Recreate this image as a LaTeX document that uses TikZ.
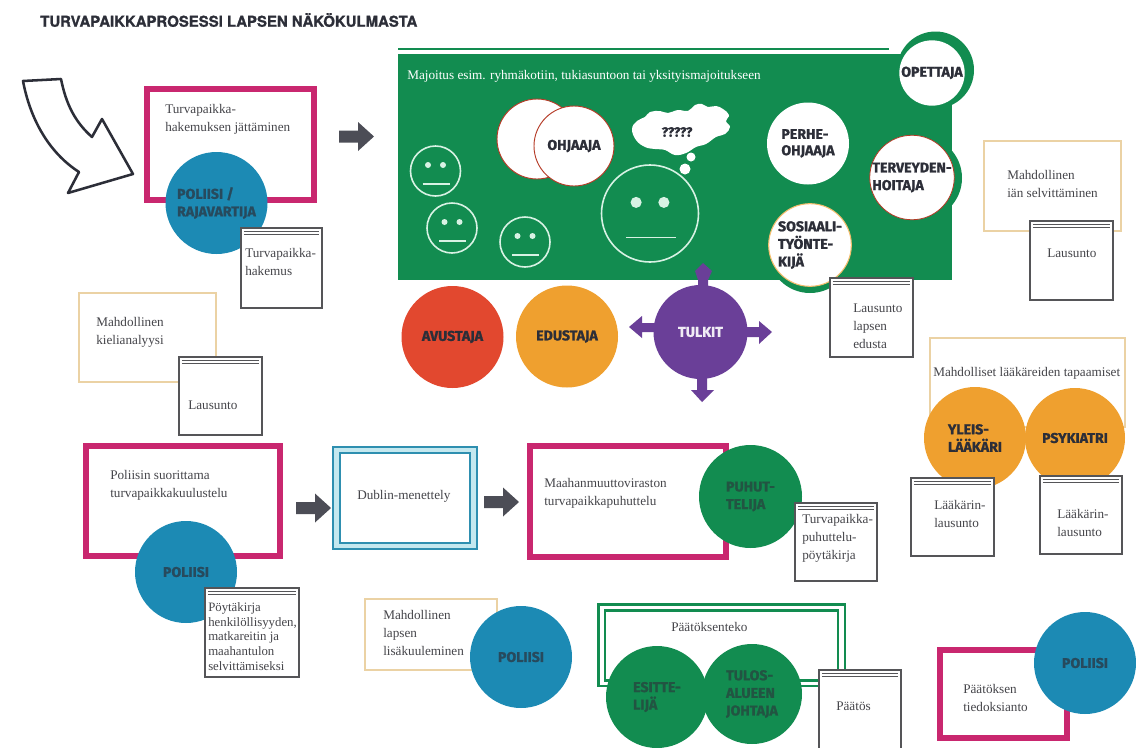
\documentclass[tikz,border=0pt]{standalone}
\usepackage{fontspec}
\setmainfont{Liberation Serif}
\newfontfamily\labfont[BoldFeatures={FakeBold=1.3}]{Fira Sans}
\newfontfamily\headfont[BoldFeatures={FakeBold=1.2}]{TeX Gyre Heros}
\definecolor{cpink}{HTML}{C9276F}
\definecolor{cblue}{HTML}{1C8AB4}
\definecolor{cgreen}{HTML}{128C50}
\definecolor{corange}{HTML}{EFA02F}
\definecolor{cred}{HTML}{E2482F}
\definecolor{cpurple}{HTML}{6A3F98}
\definecolor{cpale}{HTML}{EBD2A4}
\definecolor{cdoc}{HTML}{555558}
\definecolor{ctext}{HTML}{45454A}
\definecolor{cdark}{HTML}{2C2E38}
\definecolor{cframe}{HTML}{2E8FB0}
\definecolor{cgap}{HTML}{C4E8EF}
\definecolor{cmint}{HTML}{D8F2E4}
\tikzset{
  boxbase/.style={rectangle,inner sep=0pt,outer sep=0pt,fill=white},
  pinkbox/.style={boxbase,draw=cpink,line width=4.5pt},
  palebox/.style={boxbase,draw=cpale,line width=1.2pt},
  docbox/.style={boxbase,draw=cdoc,line width=1.6pt},
  docline/.style={draw=cdoc,line width=1.1pt},
  txt/.style={anchor=west,align=left,inner sep=0pt,text=ctext,
    font=\fontsize{9.9}{13.5}\selectfont},
  disc/.style={circle,inner sep=0pt,outer sep=0pt,align=left,text=cdark,
    font=\labfont\bfseries\fontsize{10.6}{13.2}\selectfont},
  blockarrow/.style={fill=cdark!85!white},
  facestroke/.style={draw=cmint,line width=1.2pt},
  purplearrow/.style={fill=cpurple},
}
\newcommand{\myrect}[6]{\node[#1,minimum width={(#5-#3)*0.75pt},minimum height={(#6-#4)*0.75pt}] (#2) at ({(#3+#5)/2},{(#4+#6)/2}) {};}
\newcommand{\mydoc}[5]{\myrect{docbox}{#1}{#2}{#3}{#4}{#5}
  \draw[docline] ([xshift=2.2pt,yshift=-2.8pt]#1.north west) -- ([xshift=-2.2pt,yshift=-2.8pt]#1.north east);
  \draw[docline] ([xshift=2.2pt,yshift=-4.8pt]#1.north west) -- ([xshift=-2.2pt,yshift=-4.8pt]#1.north east);}
\newcommand{\myarrow}[2]{\fill[blockarrow] (#1,#2-6) -- (#1+19,#2-6) -- (#1+19,#2-14.5) -- (#1+35,#2) -- (#1+19,#2+14.5) -- (#1+19,#2+6) -- (#1,#2+6) -- cycle;}
\newcommand{\myface}[4]{% x y r scale
  \draw[facestroke] (#1,#2) circle [radius=#3];
  \fill[cmint] (#1-#4*7.5,#2-#4*6) circle [radius=#4*3];
  \fill[cmint] (#1+#4*7.5,#2-#4*6) circle [radius=#4*3];
  \draw[facestroke] (#1-#4*13,#2+#4*13) -- (#1+#4*14,#2+#4*13);}
\begin{document}
\begin{tikzpicture}[x=0.75pt,y=-0.75pt]
\useasboundingbox (0,0) rectangle (1136,747);
\fill[white] (0,0) rectangle (1136,747);

% title
\node[anchor=west,inner sep=0pt,text=cdark,font=\headfont\bfseries\fontsize{11.2}{13}\selectfont] (title) at (40,20) {TURVAPAIKKAPROSESSI LAPSEN NÄKÖKULMASTA};

% curved outline arrow
\draw[draw=cdark,line width=1.9pt,line join=round,fill=white]
  (23,81) -- (61,79) .. controls (66,104) and (75,122) .. (92,137)
  -- (102,119) -- (133,174) -- (68,193) -- (79,172)
  .. controls (48,152) and (30,118) .. (23,81) -- cycle;

% application
\myrect{pinkbox}{b1}{147}{89}{314}{200}
\node[txt] (t1) at (165,119) {Turvapaikka-\\hakemuksen jättäminen};
\node[disc,fill=cblue,minimum size=76.5pt,text=cdark!70!cblue] (c1) at (216.5,203) {POLIISI /\\RAJAVARTIJA};
\mydoc{d1}{241}{228}{322}{308}
\node[txt] (t2) at (245,262) {Turvapaikka-\\hakemus};
\myarrow{339}{136.5}

% green panel
\fill[cgreen] (398,54) rectangle (952,280);
\draw[cgreen,line width=1.5pt] (398,49) -- (889,49);
\node[txt,text=white] (t3) at (407,76) {Majoitus esim. ryhmäkotiin, tukiasuntoon tai yksityismajoitukseen};
\myface{435.5}{171}{25}{1}
\myface{452}{228}{25}{1}
\myface{525}{242}{25}{1}
\myface{650}{213.5}{48.5}{1.85}

\node[disc,fill=white,draw=cred!80!black,line width=0.7pt,minimum size=60pt] (c2a) at (537,139) {};
\node[disc,fill=white,draw=cred!80!black,line width=0.7pt,minimum size=60pt] (c2) at (574,146) {OHJAAJA};

% thought cloud
\fill[white] plot[smooth cycle,tension=0.7] coordinates {(632,129) (637,121) (645,117) (650,112) (660,111) (668,113) (678,110) (688,111) (695,105) (702,104) (708,107) (716,106) (723,109) (729,115) (726,121) (730,127) (725,134) (716,137) (706,144) (696,147) (686,153) (675,155) (665,150) (655,149) (645,147) (636,140)};
\fill[white] (691,157) circle [radius=4.5];
\fill[white] (685,169) circle [radius=5.5];
\node[disc,font=\labfont\bfseries\fontsize{10}{11}\selectfont] (q) at (677,132) {?????};

% professionals on the panel
\node[disc,fill=white,minimum size=61.5pt] (c3) at (808,143.5) {\raisebox{5pt}{\begin{tabular}{@{}l@{}}PERHE-\\[-1pt]OHJAAJA\end{tabular}}};
\node[circle,fill=cgreen,minimum size=57.75pt,inner sep=0pt] (r1) at (935.5,70) {};
\node[disc,fill=white,minimum size=49pt] (c4) at (932,73) {\raisebox{2pt}{OPETTAJA}};
\node[circle,fill=cgreen,minimum size=63pt,inner sep=0pt] (r2) at (920,178) {};
\node[disc,fill=white,draw=cred!80!black,line width=0.6pt,minimum size=62pt] (c5) at (912,177.5) {TERVEYDEN-\\HOITAJA};
\node[circle,fill=cgreen,minimum size=63pt,inner sep=0pt] (r3) at (810,251) {};
\node[disc,fill=white,draw=corange!70!white,line width=0.8pt,minimum size=62pt] (c6) at (810,245) {SOSIAALI-\\TYÖNTE-\\KIJÄ};
\mydoc{d2}{830}{278}{913}{357}
\node[txt] (t4) at (853,326) {Lausunto\\lapsen\\edusta};

% row of circles
\node[disc,fill=cred,minimum size=76.5pt] (c7) at (452.5,337) {AVUSTAJA};
\node[disc,fill=corange,minimum size=76.5pt] (c8) at (567,336.5) {EDUSTAJA};
% interpreter arrows
\fill[purplearrow] (698,300) -- (698,280) -- (695,271) -- (703,263) -- (712,271) -- (708,280) -- (708,300) -- cycle;
\fill[purplearrow] (670,323) -- (642,323) -- (642,316) -- (629,327) -- (642,338) -- (642,332) -- (670,332) -- cycle;
\fill[purplearrow] (730,327) -- (759,327) -- (759,321) -- (772,332) -- (759,344) -- (759,337) -- (730,337) -- cycle;
\fill[purplearrow] (697,360) -- (697,390) -- (691,390) -- (702,402) -- (714,390) -- (707,390) -- (707,360) -- cycle;
\node[disc,fill=cpurple,minimum size=70.5pt,text=white!90!cpurple] (c9) at (700.5,332) {TULKIT};

% age assessment
\myrect{palebox}{b2}{984}{141}{1121}{231}
\node[txt] (t5) at (1007,184) {Mahdollinen\\iän selvittäminen};
\mydoc{d3}{1030}{221}{1113}{300}
\node[txt] (t6) at (1047,253) {Lausunto};

% language analysis
\myrect{palebox}{b3}{79}{293}{216}{382}
\node[txt] (t7) at (96,332) {Mahdollinen\\kielianalyysi};
\mydoc{d4}{179}{357}{262}{435}
\node[txt] (t8) at (188,405) {Lausunto};

% doctors
\myrect{palebox}{b4}{930}{338}{1125}{427}
\node[txt] (t9) at (933,373) {Mahdolliset lääkäreiden tapaamiset};
\node[disc,fill=corange,minimum size=76.5pt] (c10) at (975,438) {YLEIS-\\LÄÄKÄRI};
\node[disc,fill=corange,minimum size=75pt] (c11) at (1075,438) {PSYKIATRI};
\mydoc{d5}{911}{478}{994}{556}
\node[txt] (t10) at (934,514) {Lääkärin-\\lausunto};
\mydoc{d6}{1040}{476}{1122}{554}
\node[txt] (t11) at (1057,522.5) {Lääkärin-\\lausunto};

% police interview
\myrect{pinkbox}{b5}{86}{446}{280}{556}
\node[txt] (t12) at (110,485) {Poliisin suorittama\\turvapaikkakuulustelu};
\node[disc,fill=cblue,minimum size=76.5pt,text=cdark!70!cblue] (c12) at (186,572) {POLIISI};
\mydoc{d7}{205}{588}{299}{677}
\node[txt,font=\fontsize{9.6}{11}\selectfont] (t13) at (208,636.5) {Pöytäkirja\\henkilöllisyyden,\\matkareitin ja\\maahantulon\\selvittämiseksi};
\myarrow{296}{508}

% Dublin
\myrect{boxbase,fill=cgap,draw=cframe,line width=2.2pt}{b6}{333}{447}{477}{549}
\myrect{boxbase,draw=cframe,line width=2.2pt}{b6i}{340}{453}{470}{543}
\node[txt] (t14) at (357,496) {Dublin-menettely};
\myarrow{484}{502}

% Migri interview
\myrect{pinkbox}{b7}{530}{446}{726}{557}
\node[txt] (t15) at (544,493) {Maahanmuuttoviraston\\turvapaikkapuhuttelu};
\node[disc,fill=cgreen,minimum size=77.25pt,text=cdark!60!cgreen] (c13) at (750.5,496.5) {PUHUT-\\TELIJA};
\mydoc{d8}{795}{503}{877}{581}
\node[txt] (t16) at (802,538) {Turvapaikka-\\puhuttelu-\\pöytäkirja};

% extra hearing
\myrect{palebox}{b8}{365}{599}{497}{670}
\node[txt] (t17) at (383,633) {Mahdollinen\\lapsen\\lisäkuuleminen};
\node[disc,fill=cblue,minimum size=76.5pt,text=cdark!70!cblue] (c14) at (521,657) {POLIISI};

% decision making
\myrect{boxbase,draw=cgreen,line width=1.8pt}{b9}{598.5}{604.5}{845}{686}
\myrect{boxbase,draw=cgreen,line width=1.8pt}{b9i}{605}{610.5}{838}{680.5}
\node[txt] (t18) at (671,627) {Päätöksenteko};
\node[disc,fill=cgreen,minimum size=76.5pt,text=cdark!60!cgreen] (c15) at (657,697) {ESITTE-\\LIJÄ};
\node[disc,fill=cgreen,minimum size=75pt,text=cdark!60!cgreen] (c16) at (752,694) {TULOS-\\ALUEEN\\JOHTAJA};
\mydoc{d9}{819}{670}{901}{760}
\node[txt] (t19) at (836,706) {Päätös};

% notification
\myrect{pinkbox}{b10}{940}{650}{1067}{738}
\node[txt] (t20) at (963,697.5) {Päätöksen\\tiedoksianto};
\node[disc,fill=cblue,minimum size=76.5pt,text=cdark!70!cblue] (c17) at (1085,663) {POLIISI};
\end{tikzpicture}
\end{document}
